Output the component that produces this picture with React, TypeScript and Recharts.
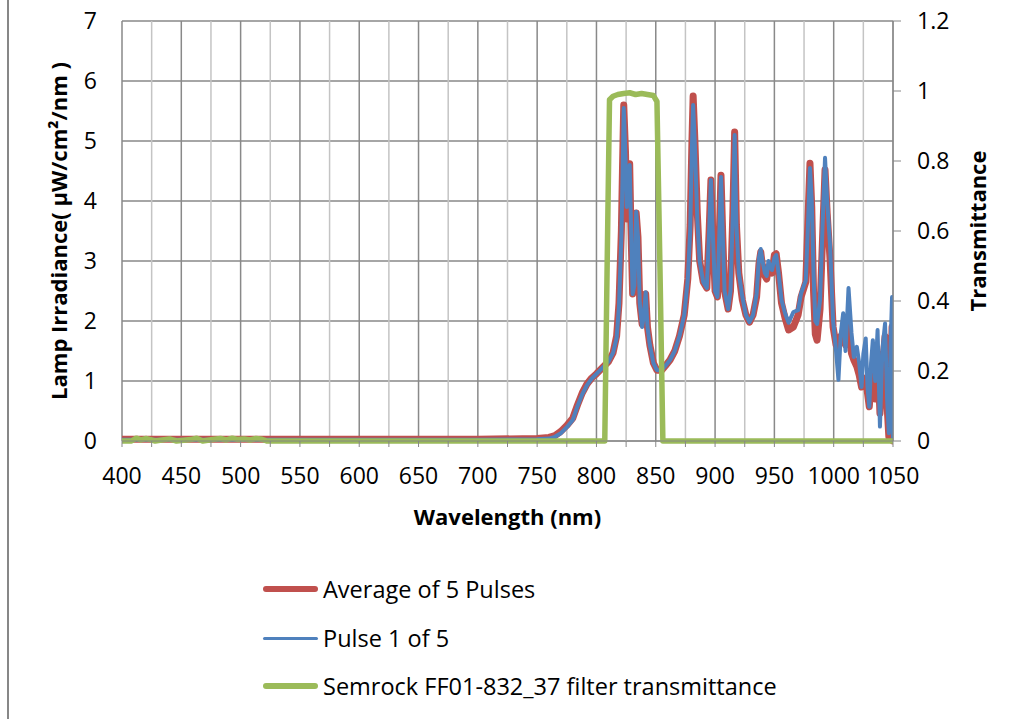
import React from "react";
import { LineChart, Line, XAxis, YAxis, CartesianGrid } from "recharts";

// wavelength grid (nm) shared by the two lamp irradiance series
const wavelengths = [
  400, 500, 600, 700, 750, 760, 765, 770, 775, 780, 784, 788, 792, 796, 800, 805, 810, 814, 817, 819,
  821, 822, 823, 824.5, 825.5, 827, 828, 829, 830.5, 832, 833.5, 835, 836.5, 838.5, 840, 841.5, 843, 845, 848, 851,
  855, 858, 862, 866, 870, 874, 877, 879, 880.5, 881.5, 883, 885, 887, 890, 893, 895, 896.5, 898, 900, 902,
  903.5, 905, 906.5, 908, 911, 913, 915, 916.5, 918, 920, 923, 926, 929, 932, 935, 937, 938.5, 940, 942, 943.5,
  945, 946.5, 948, 950, 951.5, 953.5, 956, 959, 962, 966, 970, 972.5, 976.5, 978.5, 980, 981.5, 983, 984.5, 986, 988.5,
  991, 992.7, 994.5, 997, 999.5, 1002, 1004, 1006, 1008, 1010, 1012.5, 1015, 1017, 1019.5, 1021.5, 1023.5, 1025, 1027, 1028.5, 1030,
  1031.5, 1033, 1035, 1037, 1039, 1041, 1043.3, 1045, 1046.5, 1048, 1049.2, 1050,
];

const avgIrradiance = [
  0.03, 0.03, 0.03, 0.03, 0.04, 0.06, 0.09, 0.16, 0.26, 0.38, 0.6, 0.8, 0.95, 1.05, 1.12, 1.22, 1.32, 1.47, 1.75, 2.3,
  3.5, 4.6, 5.6, 4.8, 3.7, 4.2, 4.62, 3.6, 2.45, 2.6, 3.8, 3.4, 2.3, 1.95, 2.1, 2.45, 1.9, 1.6, 1.3, 1.18,
  1.18, 1.25, 1.35, 1.5, 1.75, 2.1, 2.7, 3.6, 5.0, 5.75, 5.0, 3.8, 3.0, 2.65, 2.55, 3.5, 4.35, 3.5, 2.5, 2.4,
  3.4, 4.43, 3.4, 2.5, 2.2, 2.5, 3.8, 5.15, 3.6, 2.8, 2.35, 2.1, 1.98, 2.1, 2.4, 2.95, 3.15, 2.9, 2.75, 2.7,
  2.9, 2.85, 2.8, 3.1, 3.12, 2.8, 2.3, 2.05, 1.85, 1.9, 2.1, 2.4, 2.65, 3.8, 4.63, 3.9, 2.5, 1.78, 1.68, 2.2,
  3.6, 4.52, 3.8, 3.0, 1.9, 1.6, 1.57, 1.75, 1.78, 1.6, 1.9, 1.46, 1.35, 1.24, 1.1, 0.9, 1.05, 1.02, 0.8, 0.57,
  0.95, 1.12, 0.7, 1.46, 0.46, 1.2, 1.74, 0.6, 0.07, 0.9, 1.9, 0,
];

const pulse1Irradiance = [
  0.02, 0.02, 0.02, 0.02, 0.03, 0.04, 0.07, 0.13, 0.23, 0.35, 0.58, 0.78, 0.93, 1.04, 1.12, 1.22, 1.32, 1.47, 1.72, 2.25,
  3.4, 4.4, 5.55, 4.7, 3.9, 4.3, 4.6, 3.7, 2.45, 2.6, 3.82, 3.4, 2.3, 1.9, 2.1, 2.48, 1.9, 1.6, 1.3, 1.18,
  1.18, 1.25, 1.35, 1.5, 1.75, 2.1, 2.7, 3.5, 4.9, 5.6, 4.9, 3.7, 3.0, 2.65, 2.55, 3.5, 4.35, 3.5, 2.5, 2.4,
  3.4, 4.4, 3.4, 2.5, 2.2, 2.5, 3.8, 5.1, 3.6, 2.8, 2.4, 2.1, 1.98, 2.1, 2.45, 3.05, 3.2, 3.0, 2.8, 2.75,
  3.0, 2.9, 2.85, 3.05, 3.1, 2.8, 2.35, 2.13, 1.97, 2.15, 2.18, 2.46, 2.68, 3.7, 4.55, 4.0, 2.8, 2.0, 1.95, 2.35,
  3.8, 4.72, 4.0, 3.24, 2.0, 1.5, 1.02, 1.8, 2.13, 1.5, 2.55, 1.8, 1.4, 1.57, 1.3, 0.9, 1.45, 1.71, 0.9, 0.57,
  1.3, 1.68, 1.0, 1.85, 0.24, 1.5, 1.96, 0.7, 0.13, 1.6, 2.4, 0,
];

// Semrock FF01-832/37 transmittance (right axis)
const filterWavelengths = [
  400, 408, 412, 416, 420, 424, 428, 440, 446, 458, 463, 468, 478, 483, 488, 493, 498, 503, 508, 513,
  518, 522, 807, 809, 811, 814, 818, 823, 828, 833, 838, 843, 848, 851, 853.5, 856, 1050,
];
const filterTransmittance = [
  0, 0, 0.008, 0.003, 0.007, 0.004, 0, 0.006, 0, 0.004, 0.008, 0, 0.005, 0.007, 0.003, 0.008, 0.004, 0.006, 0.003, 0.007,
  0.005, 0, 0, 0.5, 0.975, 0.985, 0.99, 0.993, 0.995, 0.99, 0.993, 0.99, 0.987, 0.97, 0.5, 0, 0,
];

const xTicks = [
  400, 425, 450, 475, 500, 525, 550, 575, 600, 625, 650, 675, 700, 725, 750, 775, 800, 825, 850, 875,
  900, 925, 950, 975, 1000, 1025, 1050,
];
const irradianceTicks = [0, 1, 2, 3, 4, 5, 6, 7];
const transmittanceTicks = [0, 0.2, 0.4, 0.6, 0.8, 1, 1.2];

const irradianceData = wavelengths.map((wl, i) => ({
  wl,
  avg: avgIrradiance[i],
  pulse: pulse1Irradiance[i],
}));
const filterData = filterWavelengths.map((wl, i) => ({ wl, t: filterTransmittance[i] }));

const RED = "#C0504D";
const BLUE = "#4F81BD";
const GREEN = "#9BBB59";
const GRID = "#898989";
const GRID_MINOR = "#c4c4c4";

const legendItems = [
  { name: "Average of 5 Pulses", color: RED, width: 6 },
  { name: "Pulse 1 of 5", color: BLUE, width: 3 },
  { name: "Semrock FF01-832_37 filter transmittance", color: GREEN, width: 6 },
];
const legendRowY = [589, 638, 686];

const verticalGridLine = (p: any) => (
  <line
    key={`vg-${p.index}`}
    x1={p.x1}
    y1={p.y1}
    x2={p.x2}
    y2={p.y2}
    stroke={p.index % 2 === 0 ? GRID : GRID_MINOR}
    strokeWidth={1.5}
  />
);

export default function App() {
  return (
    <div
      style={{
        position: "absolute",
        left: 7,
        top: 0,
        width: 1004,
        height: 719,
        borderLeft: "2px solid #878787",
        fontFamily: "'Open Sans', sans-serif",
        background: "#fff",
      }}
    >
      <LineChart width={1004} height={719} margin={{ top: 21, right: 0, bottom: 178, left: 0 }}>
        <CartesianGrid stroke={GRID} strokeWidth={1.5} vertical={verticalGridLine} />
        <XAxis
          dataKey="wl"
          type="number"
          domain={[400, 1050]}
          ticks={xTicks}
          interval={0}
          allowDataOverflow
          height={100}
          tickSize={6}
          tickMargin={21}
          stroke="#868686"
          tickFormatter={(v: number) => (v % 50 === 0 ? String(v) : "")}
          tick={{ fontSize: 23, fill: "#000" }}
          label={{
            value: "Wavelength (nm)",
            position: "insideTop",
            offset: 68,
            style: { fontWeight: "bold", fontSize: 22, fill: "#000" },
          }}
        />
        <YAxis
          type="number"
          domain={[0, 7]}
          ticks={irradianceTicks}
          width={113}
          axisLine={false}
          tickLine={false}
          tickSize={0}
          tickMargin={25}
          tick={{ fontSize: 23, fill: "#000" }}
          label={{
            value: "Lamp Irradiance( µW/cm²/nm )",
            angle: -90,
            position: "insideLeft",
            offset: 50,
            style: { fontWeight: "bold", fontSize: 22, fill: "#000", textAnchor: "middle" },
          }}
        />
        <YAxis
          yAxisId="right"
          orientation="right"
          type="number"
          domain={[0, 1.2]}
          ticks={transmittanceTicks}
          width={120}
          tickSize={8}
          tickMargin={16}
          stroke="#868686"
          tick={{ fontSize: 23, fill: "#000" }}
          label={{
            value: "Transmittance",
            angle: -90,
            position: "insideRight",
            offset: 35,
            style: { fontWeight: "bold", fontSize: 22, fill: "#000", textAnchor: "middle" },
          }}
        />
        <Line
          data={irradianceData}
          dataKey="avg"
          name="Average of 5 Pulses"
          type="linear"
          stroke={RED}
          strokeWidth={7}
          strokeLinejoin="round"
          strokeLinecap="round"
          dot={false}
          isAnimationActive={false}
        />
        <Line
          data={irradianceData}
          dataKey="pulse"
          name="Pulse 1 of 5"
          type="linear"
          stroke={BLUE}
          strokeWidth={4}
          strokeLinejoin="round"
          strokeLinecap="round"
          dot={false}
          isAnimationActive={false}
        />
        <Line
          data={filterData}
          yAxisId="right"
          dataKey="t"
          name="Semrock FF01-832_37 filter transmittance"
          type="linear"
          stroke={GREEN}
          strokeWidth={5.5}
          strokeLinejoin="round"
          strokeLinecap="round"
          dot={false}
          isAnimationActive={false}
        />
      </LineChart>
      {legendItems.map((item, i) => (
        <div
          key={item.name}
          style={{
            position: "absolute",
            left: 254,
            top: legendRowY[i] - 16,
            height: 32,
            display: "flex",
            alignItems: "center",
            fontSize: 23.5,
            color: "#000",
            whiteSpace: "nowrap",
          }}
        >
          <span
            style={{
              display: "inline-block",
              width: 55,
              height: item.width,
              background: item.color,
              borderRadius: item.width,
              marginRight: 5,
            }}
          />
          {item.name}
        </div>
      ))}
    </div>
  );
}
